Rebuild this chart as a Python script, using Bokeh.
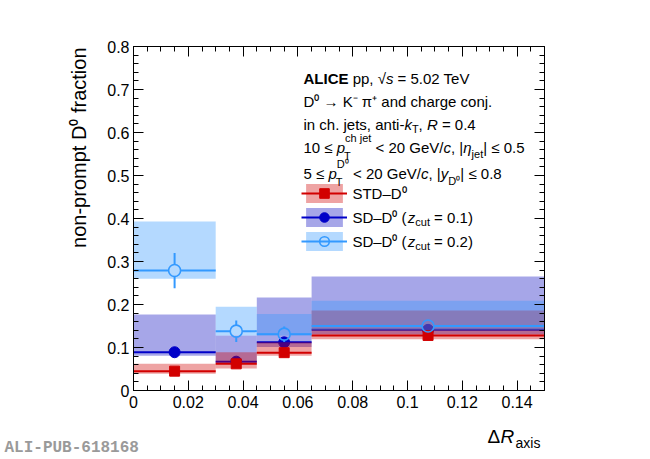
import math
from bokeh.plotting import figure
from bokeh.models import (Label, Legend, LegendItem, FixedTicker, LinearAxis, Range1d)
from bokeh.embed import file_html
from bokeh.resources import INLINE

# ---------------- data ----------------
bin_lo = [0.0, 0.03, 0.045, 0.065]
bin_hi = [0.03, 0.045, 0.065, 0.15]
bin_x = [0.015, 0.0375, 0.055, 0.1075]

std_val = [0.045, 0.062, 0.088, 0.128]
std_stat = [0.004, 0.005, 0.005, 0.004]
std_sys_lo = [0.039, 0.051, 0.081, 0.119]
std_sys_hi = [0.062, 0.089, 0.112, 0.186]

sd1_val = [0.089, 0.067, 0.112, 0.141]
sd1_stat = [0.005, 0.006, 0.007, 0.005]
sd1_sys_lo = [0.081, 0.066, 0.101, 0.130]
sd1_sys_hi = [0.177, 0.128, 0.216, 0.265]

sd2_val = [0.279, 0.138, 0.131, 0.150]
sd2_stat = [0.041, 0.025, 0.018, 0.012]
sd2_sys_lo = [0.260, 0.128, 0.128, 0.140]
sd2_sys_hi = [0.393, 0.195, 0.178, 0.209]

x_ticks = [0, 0.02, 0.04, 0.06, 0.08, 0.1, 0.12, 0.14]
x_tick_labels = ["0", "0.02", "0.04", "0.06", "0.08", "0.1", "0.12", "0.14"]
y_ticks = [0, 0.1, 0.2, 0.3, 0.4, 0.5, 0.6, 0.7, 0.8]
y_tick_labels = ["0", "0.1", "0.2", "0.3", "0.4", "0.5", "0.6", "0.7", "0.8"]

legend_labels = ["STD\u2013D\u2070", "SD\u2013D\u2070 (", "SD\u2013D\u2070 ("]
zcut_values = ["0.1", "0.2"]
y_title = "non-prompt D\u2070 fraction"

X_MIN, X_MAX = 0.0, 0.15
Y_MIN, Y_MAX = 0.0, 0.8

# ---------------- layout ----------------
W_PX, H_PX = 650, 459
FR_L, FR_R, FR_T, FR_B = 133, 544, 46, 390   # plotting box in page pixels
FONT = "Liberation Sans"

sx_per = (FR_R - FR_L) / (X_MAX - X_MIN)
sy_per = (FR_B - FR_T) / (Y_MAX - Y_MIN)
x_start = X_MIN - FR_L / sx_per
x_end = x_start + W_PX / sx_per
y_start = Y_MIN - (H_PX - FR_B) / sy_per
y_end = y_start + H_PX / sy_per

RED, RED_BAND = "#d20000", "#d00000"
BLUE, BLUE_BAND = "#0000c8", "#0000be"
AZURE, AZURE_BAND = "#3399ff", "#3399ff"

p = figure(width=W_PX, height=H_PX, x_range=Range1d(x_start, x_end),
           y_range=Range1d(y_start, y_end), output_backend="svg", toolbar_location=None,
           min_border=0)
p.xgrid.visible = False
p.ygrid.visible = False
p.outline_line_color = None
p.background_fill_color = "white"
p.border_fill_color = "white"

x_minor = [round(i * 0.005, 4) for i in range(31)]
y_minor = [round(i * 0.02, 3) for i in range(41)]


def style_axis(ax, ticks, labels, minor, loc, bounds, show_labels=True):
    ax.fixed_location = loc
    ax.bounds = bounds
    ax.ticker = FixedTicker(ticks=ticks, minor_ticks=minor)
    ax.major_label_overrides = {t: (l if show_labels else "") for t, l in zip(ticks, labels)}
    ax.major_tick_in = 10
    ax.major_tick_out = 0
    ax.minor_tick_in = 5
    ax.minor_tick_out = 0
    ax.axis_line_color = "black"
    ax.major_tick_line_color = "black"
    ax.minor_tick_line_color = "black"
    ax.axis_line_width = 1
    ax.major_label_text_font = FONT
    ax.major_label_text_color = "black"
    ax.major_label_text_font_size = "16px"
    ax.major_label_standoff = 5


style_axis(p.xaxis[0], x_ticks, x_tick_labels, x_minor, Y_MIN, (X_MIN, X_MAX))
style_axis(p.yaxis[0], y_ticks, y_tick_labels, y_minor, X_MIN, (Y_MIN, Y_MAX))
p.yaxis[0].major_label_standoff = 4
ax_top = LinearAxis()
style_axis(ax_top, x_ticks, x_tick_labels, x_minor, Y_MAX, (X_MIN, X_MAX), show_labels=False)
p.add_layout(ax_top, "above")
ax_right = LinearAxis()
style_axis(ax_right, y_ticks, y_tick_labels, y_minor, X_MAX, (Y_MIN, Y_MAX), show_labels=False)
p.add_layout(ax_right, "right")


def draw_series(val, stat, sys_lo, sys_hi, color, band_color, band_alpha, marker, size, open_marker=False):
    band = p.quad(left=bin_lo, right=bin_hi, bottom=sys_lo, top=sys_hi,
                  fill_color=band_color, fill_alpha=band_alpha, line_color=None)
    if open_marker:
        r = size / 2.0
        gx = r / sx_per
        gy = r / sy_per
        hl = p.segment(x0=bin_lo, y0=val, x1=[x - gx for x in bin_x], y1=val,
                       line_color=color, line_width=2)
        p.segment(x0=[x + gx for x in bin_x], y0=val, x1=bin_hi, y1=val,
                  line_color=color, line_width=2)
        keep = [i for i, s in enumerate(stat) if s > gy]
        xs = [bin_x[i] for i in keep]
        vs = [val[i] for i in keep]
        ss = [stat[i] for i in keep]
        p.segment(x0=xs, y0=[v - s for v, s in zip(vs, ss)], x1=xs, y1=[v - gy for v in vs],
                  line_color=color, line_width=2)
        p.segment(x0=xs, y0=[v + gy for v in vs], x1=xs, y1=[v + s for v, s in zip(vs, ss)],
                  line_color=color, line_width=2)
        mk = p.scatter(x=bin_x, y=val, marker=marker, size=size, fill_color=None,
                       line_color=color, line_width=1.6)
    else:
        hl = p.segment(x0=bin_lo, y0=val, x1=bin_hi, y1=val, line_color=color, line_width=2)
        p.segment(x0=bin_x, y0=[v - s for v, s in zip(val, stat)], x1=bin_x,
                  y1=[v + s for v, s in zip(val, stat)], line_color=color, line_width=2)
        mk = p.scatter(x=bin_x, y=val, marker=marker, size=size, fill_color=color,
                       line_color=color, line_width=1)
    return [band, hl, mk]


r_sd1 = draw_series(sd1_val, sd1_stat, sd1_sys_lo, sd1_sys_hi, BLUE, BLUE_BAND, 0.35, "circle", 11)
r_std = draw_series(std_val, std_stat, std_sys_lo, std_sys_hi, RED, RED_BAND, 0.36, "square", 10)
r_sd2 = draw_series(sd2_val, sd2_stat, sd2_sys_lo, sd2_sys_hi, AZURE, AZURE_BAND, 0.37, "circle", 12, open_marker=True)

# ---------------- legend ----------------
LEG_GW, LEG_GH, LEG_STANDOFF = 46, 24, 5
leg_left_page = 301.4
leg_top_page = 181.3
legend = Legend(items=[LegendItem(label=legend_labels[0], renderers=r_std),
                       LegendItem(label=legend_labels[1], renderers=r_sd1),
                       LegendItem(label=legend_labels[2], renderers=r_sd2)],
                location=(leg_left_page, H_PX - (leg_top_page + 3 * LEG_GH)),
                glyph_width=LEG_GW, glyph_height=LEG_GH, label_height=LEG_GH,
                label_standoff=LEG_STANDOFF, spacing=0, padding=0, margin=0,
                border_line_color=None, background_fill_alpha=0,
                label_text_font=FONT, label_text_font_size="15px", label_text_color="black")
p.add_layout(legend)

# ---------------- text helpers ----------------
W = {' ': 278, '(': 333, ')': 333, ',': 278, '-': 333, '.': 278, '/': 278, '<': 584, '=': 584,
     '|': 260, '\u2264': 549, '\u2192': 1000, '\u2013': 556, '\u221a': 549, '\u03c0': 580,
     '\u03b7': 556, '\u0394': 668, '\u2070': 380, '\u207b': 380, '\u207a': 380,
     'A': 667, 'C': 722, 'D': 722, 'E': 667, 'G': 778, 'I': 278, 'K': 667, 'L': 556, 'R': 722,
     'S': 667, 'T': 611, 'V': 667,
     'a': 556, 'b': 556, 'c': 500, 'd': 556, 'e': 556, 'f': 278, 'g': 556, 'h': 556, 'i': 222,
     'j': 222, 'k': 500, 'l': 222, 'm': 833, 'n': 556, 'o': 556, 'p': 556, 'r': 333, 's': 500,
     't': 278, 'u': 556, 'x': 500, 'y': 500, 'z': 500}
for d in "0123456789":
    W[d] = 556
WB = {'A': 722, 'L': 611, 'I': 278, 'C': 722, 'E': 667}


def tw(s, size, bold=False):
    tot = 0
    for ch in s:
        tot += (WB.get(ch, W.get(ch, 556)) if bold else W.get(ch, 556))
    return tot * size / 1000.0


def put(px, py, text, size=15, style="normal", align="left", baseline="alphabetic",
        angle=0.0, font=FONT, color="black"):
    p.add_layout(Label(x=px, y=H_PX - py, x_units="screen", y_units="screen",
                       text=text, text_font=font, text_font_size=f"{size}px",
                       text_font_style=style, text_align=align, text_baseline=baseline,
                       angle=angle, text_color=color))


def put_piece(x, py, text, size, style, baseline):
    lead = len(text) - len(text.lstrip(" "))
    core = text.strip(" ")
    if core:
        put(x + tw(" " * lead, size), py, core, size, style, baseline=baseline)
    return tw(text, size, style == "bold")


def run(px, py, pieces, baseline="alphabetic"):
    x = px
    for pc in pieces:
        if pc[0] == "stack":
            _, sup, sub = pc
            w1 = put_piece(x, py + sup[3], sup[0], sup[1], sup[2], baseline)
            w2 = put_piece(x - 1, py + sub[3], sub[0], sub[1], sub[2], baseline)
            x += max(w1, w2)
        else:
            text, size, style, dy = pc
            x += put_piece(x, py + dy, text, size, style, baseline)
    return x


TX = 303
run(TX, 78, [("ALICE", 15, "bold", 0), (" pp, ", 15, "normal", 0), ("\u221a", 15, "normal", 0),
             ("s", 15, "italic", 0), (" = 5.02 TeV", 15, "normal", 0)])
run(TX, 101, [("D\u2070 \u2192 K\u207b \u03c0\u207a and charge conj.", 15, "normal", 0)])
run(TX, 124, [("in ch. jets, anti-", 15, "normal", 0), ("k", 15, "italic", 0),
              ("T", 11, "normal", 4), (", ", 15, "normal", 0), ("R", 15, "italic", 0),
              (" = 0.4", 15, "normal", 0)])
run(TX, 147, [("10 \u2264 ", 15, "normal", 0), ("p", 15, "italic", 0),
              ("stack", ("ch jet", 11, "normal", -10), ("T", 11, "normal", 8)),
              (" < 20 GeV/", 15, "normal", 0), ("c", 15, "italic", 0), (", |", 15, "normal", 0),
              ("\u03b7", 15, "italic", 0), ("jet", 11, "normal", 6), ("| \u2264 0.5", 15, "normal", 0)])
run(TX, 173, [("5 \u2264 ", 15, "normal", 0), ("p", 15, "italic", 0),
              ("stack", ("D\u2070", 11, "normal", -10), ("T", 11, "normal", 8)),
              (" < 20 GeV/", 15, "normal", 0), ("c", 15, "italic", 0), (", |", 15, "normal", 0),
              ("y", 15, "italic", 0), ("D\u2070", 11, "normal", 7), ("| \u2264 0.8", 15, "normal", 0)])

# z_cut parts of legend entries
lab_x = leg_left_page + LEG_GW + LEG_STANDOFF + tw(legend_labels[1], 15)
for i, zc in enumerate(zcut_values):
    row_center = leg_top_page + (i + 1.5) * LEG_GH
    run(lab_x, row_center, [("z", 15, "italic", 0), ("cut", 11, "normal", 4),
                            (" = " + zc + ")", 15, "normal", 0)], baseline="middle")

# axis titles
put(78, 47, y_title, size=20, align="right", baseline="alphabetic", angle=math.pi / 2)
put(487, 436, "\u0394", size=19)
put(500, 436, "R", size=19, style="italic")
put(515, 442, "axis", size=14)

# publication id
put(4, 447, "ALI-PUB-618168", size=16, style="bold", font="Liberation Mono", color="#9a9a9a")

open("out.html", "w").write(file_html(p, INLINE))
